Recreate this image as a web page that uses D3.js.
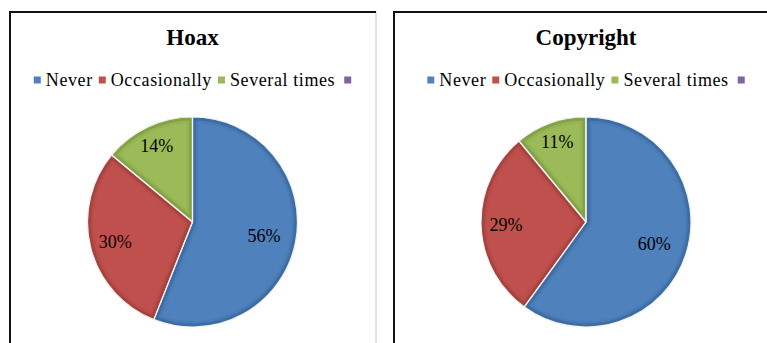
<!DOCTYPE html>
<html>
<head>
<meta charset="utf-8">
<script src="https://cdn.jsdelivr.net/npm/d3@7"></script>
<style>
  html, body { margin: 0; padding: 0; background: #fff; }
  svg { display: block; }
  text { fill: #000; }
</style>
</head>
<body>
<svg id="chart" width="767" height="343"></svg>
<script>
// Survey answers, one pie per topic
const categories = ["Never", "Occasionally", "Several times", ""];
const chartTitles = ["Hoax", "Copyright"];
const hoaxValues = [56, 30, 14, 0];
const copyrightValues = [60, 29, 11, 0];

const fills = ["#4F81BD", "#C0504D", "#9BBB59", "#8064A2"];
const rims  = ["#3E6DA6", "#A8423F", "#84A347", "#6A5290"];
const serif = "'Liberation Serif', 'Times New Roman', serif";

const svg = d3.select("#chart");
const defs = svg.append("defs");

const panels = [
  { title: chartTitles[0], values: hoaxValues, x: 9, w: 367 },
  { title: chartTitles[1], values: copyrightValues, x: 393, w: 386 }
];

const panelTop = 11, panelH = 360, radius = 105, pieCY = 222;

const color = d3.scaleOrdinal().domain(categories.map((c, i) => i)).range(fills);
const rim = d3.scaleOrdinal().domain(categories.map((c, i) => i)).range(rims);

const pie = d3.pie().sort(null).value(d => d.value);
const arc = d3.arc().innerRadius(0).outerRadius(radius);

panels.forEach((p, pi) => {
  const g = svg.append("g");
  const cx = p.x + p.w / 2;

  // frame: dark left/top edges, light right edge
  g.append("rect").attr("x", p.x + 1).attr("y", panelTop + 1)
    .attr("width", p.w - 1).attr("height", panelH)
    .attr("fill", "#fff").attr("stroke", "#c8c8c8").attr("stroke-width", 1);
  g.append("line").attr("x1", p.x + 1).attr("x2", p.x + 1)
    .attr("y1", panelTop).attr("y2", 348)
    .attr("stroke", "#111").attr("stroke-width", 2);
  g.append("line").attr("x1", p.x).attr("x2", p.x + p.w)
    .attr("y1", panelTop + 1).attr("y2", panelTop + 1)
    .attr("stroke", "#111").attr("stroke-width", 2);

  // title
  g.append("text").attr("x", cx).attr("y", 45)
    .attr("text-anchor", "middle")
    .attr("font-family", serif)
    .attr("font-size", 23).attr("font-weight", "bold")
    .text(p.title);

  // legend
  const leg = g.append("g").attr("class", "legend");
  let lx = 0;
  categories.forEach((c, i) => {
    leg.append("rect").attr("x", lx).attr("y", 76.5)
      .attr("width", 7).attr("height", 7).attr("fill", color(i));
    lx += 12;
    if (c) {
      const t = leg.append("text").attr("x", lx).attr("y", 86)
        .attr("font-family", serif)
        .attr("font-size", 18).attr("letter-spacing", 0.6)
        .text(c);
      lx += t.node().getComputedTextLength() + (i === categories.length - 2 ? 9 : 6);
    }
  });
  const bb = leg.node().getBBox();
  leg.attr("transform", `translate(${cx - bb.width / 2 - bb.x},0)`);

  // pie
  const data = categories.map((c, i) => ({ name: c, value: p.values[i], idx: i }));
  const arcs = pie(data).filter(d => d.value > 0);
  const pg = g.append("g").attr("transform", `translate(${cx},${pieCY})`);

  arcs.forEach(d => {
    const id = `clip-${pi}-${d.data.idx}`;
    defs.append("clipPath").attr("id", id)
      .append("path").attr("d", arc(d));
    const sg = pg.append("g");
    sg.append("path").attr("d", arc(d)).attr("fill", color(d.data.idx));
    // soft bevel rim inside each slice
    const rg = sg.append("g").attr("clip-path", `url(#${id})`);
    rg.append("path").attr("d", arc(d))
      .attr("fill", "none").attr("stroke", color(d.data.idx))
      .attr("stroke-opacity", 0.6).attr("stroke-width", 12)
      .attr("stroke-linejoin", "round")
      .style("filter", "brightness(0.93)");
    rg.append("path").attr("d", arc(d))
      .attr("fill", "none").attr("stroke", rim(d.data.idx))
      .attr("stroke-width", 7).attr("stroke-linejoin", "round");
  });
  // thin light separators
  arcs.forEach(d => {
    pg.append("path").attr("d", arc(d))
      .attr("fill", "none").attr("stroke", "#f4f4f4")
      .attr("stroke-width", 1.2).attr("stroke-linejoin", "round");
  });

  // value labels
  arcs.forEach(d => {
    const share = d.value / d3.sum(p.values);
    const lr = radius * (0.838 - 0.257 * share);
    const a = (d.startAngle + d.endAngle) / 2;
    pg.append("text")
      .attr("x", lr * Math.sin(a)).attr("y", -lr * Math.cos(a) + 6)
      .attr("text-anchor", "middle")
      .attr("font-family", serif).attr("font-size", 18)
      .text(d.value + "%");
  });
});
</script>
</body>
</html>
